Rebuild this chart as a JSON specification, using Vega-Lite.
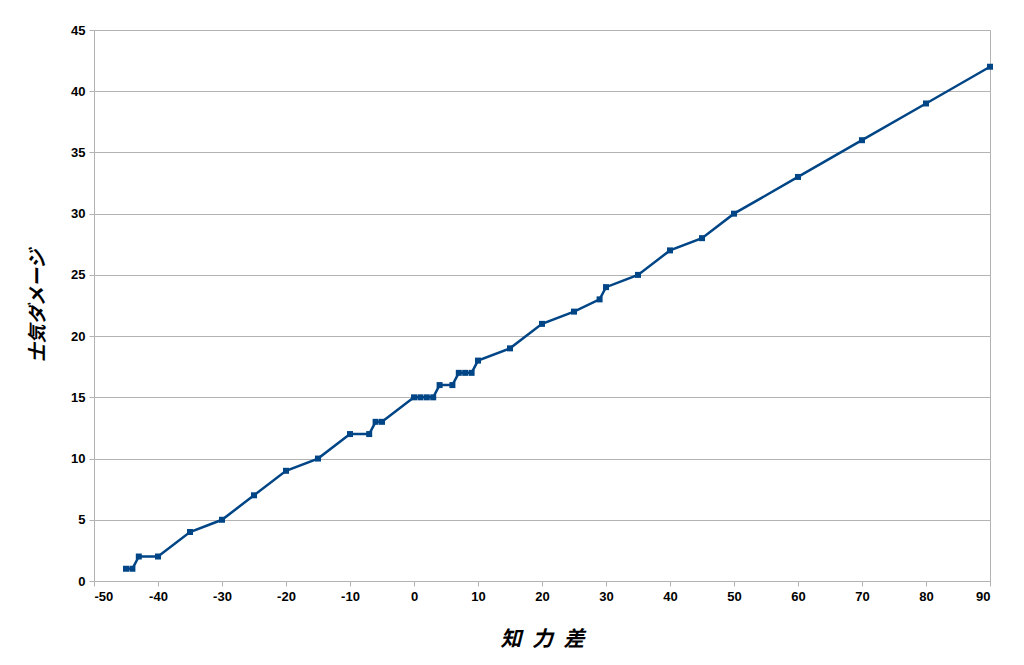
{
  "$schema": "https://vega.github.io/schema/vega-lite/v6.json",
  "width": 896,
  "height": 551,
  "autosize": {"type": "none"},
  "padding": {"left": 94, "top": 30, "right": 34, "bottom": 84},
  "background": "white",
  "config": {
    "view": {"stroke": "#b3b3b3", "strokeWidth": 1},
    "axis": {
      "labelFont": "Liberation Sans",
      "labelFontWeight": "bold",
      "labelFontSize": 13,
      "labelColor": "#000000",
      "labelExpr": "replace(datum.label, '\u2212', '-')",
      "titleFont": "Noto Sans CJK JP",
      "titleFontSize": 19,
      "titleFontWeight": "bold",
      "titleFontStyle": "italic",
      "titleColor": "#000000",
      "domainColor": "#b3b3b3",
      "tickColor": "#b3b3b3",
      "tickSize": 5,
      "gridColor": "#b3b3b3"
    }
  },
  "data": {
    "values": [
      {"x": -45, "y": 1}, {"x": -44, "y": 1}, {"x": -43, "y": 2}, {"x": -40, "y": 2},
      {"x": -35, "y": 4}, {"x": -30, "y": 5}, {"x": -25, "y": 7}, {"x": -20, "y": 9},
      {"x": -15, "y": 10}, {"x": -10, "y": 12}, {"x": -7, "y": 12}, {"x": -6, "y": 13},
      {"x": -5, "y": 13}, {"x": 0, "y": 15}, {"x": 1, "y": 15}, {"x": 2, "y": 15},
      {"x": 3, "y": 15}, {"x": 4, "y": 16}, {"x": 6, "y": 16}, {"x": 7, "y": 17},
      {"x": 8, "y": 17}, {"x": 9, "y": 17}, {"x": 10, "y": 18}, {"x": 15, "y": 19},
      {"x": 20, "y": 21}, {"x": 25, "y": 22}, {"x": 29, "y": 23}, {"x": 30, "y": 24},
      {"x": 35, "y": 25}, {"x": 40, "y": 27}, {"x": 45, "y": 28}, {"x": 50, "y": 30},
      {"x": 60, "y": 33}, {"x": 70, "y": 36}, {"x": 80, "y": 39}, {"x": 90, "y": 42}
    ]
  },
  "encoding": {
    "x": {
      "field": "x", "type": "quantitative",
      "scale": {"domain": [-50, 90], "nice": false, "zero": false},
      "axis": {"title": "知\u2002力\u2002差", "titleFontSize": 21, "values": [-50,-40,-30,-20,-10,0,10,20,30,40,50,60,70,80,90], "grid": false, "labelPadding": 4, "titlePadding": 25}
    },
    "y": {
      "field": "y", "type": "quantitative",
      "scale": {"domain": [0, 45], "nice": false},
      "axis": {"title": "士気ダメージ", "values": [0,5,10,15,20,25,30,35,40,45], "grid": true, "labelPadding": 4, "titlePadding": 23}
    }
  },
  "layer": [
    {"mark": {"type": "line", "color": "#004586", "strokeWidth": 2.5}},
    {"mark": {"type": "point", "shape": "square", "filled": true, "color": "#004586", "size": 36, "opacity": 1}}
  ]
}
